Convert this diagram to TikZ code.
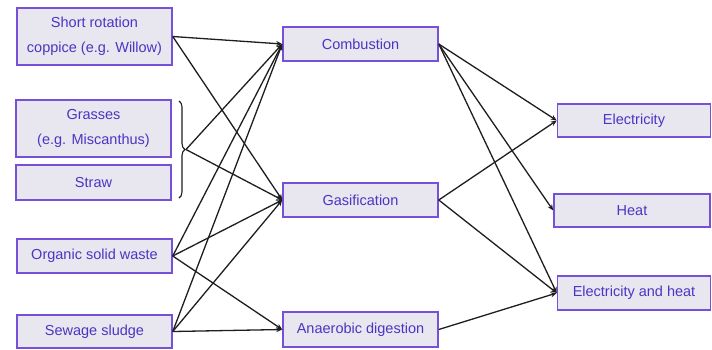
\documentclass[tikz,border=0pt]{standalone}
\usepackage{fontspec}
\setmainfont{Liberation Sans}
\usetikzlibrary{arrows.meta,decorations.pathreplacing}
\definecolor{boxfill}{HTML}{E8E6EF}
\definecolor{boxline}{HTML}{7650D8}
\definecolor{boxtext}{HTML}{4E34C2}
\definecolor{linecol}{HTML}{1E1E1E}
\begin{document}
\begin{tikzpicture}[x=1pt,y=-1pt,
  box/.style={draw=boxline,line width=1.5pt,fill=boxfill,text=boxtext,
    minimum width=155pt,inner sep=0pt,align=center,
    font=\fontsize{14.5}{25}\selectfont},
  conn/.style={draw=linecol,line width=1.3pt,-{Stealth[length=6pt,width=5pt]}}]
\useasboundingbox (0,0) rectangle (712,349);
\fill[white] (0,0) rectangle (712,349);
% sources
\node[box,minimum height=57pt] (src) at (94.5,36.5) {Short rotation\\coppice (e.g. Willow)};
\node[box,minimum height=57pt] (gra) at (93.5,128.5) {Grasses\\(e.g. Miscanthus)};
\node[box,minimum height=35pt] (stw) at (93.5,182.5) {Straw};
\node[box,minimum height=34pt] (osw) at (94.5,256) {Organic solid waste};
\node[box,minimum height=33pt] (sew) at (94.5,331.5) {Sewage sludge};
% processes
\node[box,minimum height=34pt] (com) at (360.5,44) {Combustion};
\node[box,minimum height=34pt] (gas) at (360.5,200) {Gasification};
\node[box,minimum height=35pt] (ana) at (360.5,329.5) {Anaerobic digestion};
% outputs
\node[box,minimum width=153pt,minimum height=33pt] (ele) at (634,120.5) {Electricity};
\node[box,minimum width=156pt,minimum height=33pt] (hea) at (632,210.5) {Heat};
\node[box,minimum width=153pt,minimum height=34pt] (eah) at (634,293) {Electricity and heat};
% brace
\draw[linecol,line width=1.1pt,decorate,decoration={brace,amplitude=6pt}] (179,101) -- (179,198);
\coordinate (br) at (186,149.5);
% connectors
\draw[conn] (src.east) -- (com.west);
\draw[conn] (src.east) -- (gas.west);
\draw[conn] (br) -- (com.west);
\draw[conn] (br) -- (gas.west);
\draw[conn] (osw.east) -- (com.west);
\draw[conn] (osw.east) -- (gas.west);
\draw[conn] (osw.east) -- (ana.west);
\draw[conn] (sew.east) -- (com.west);
\draw[conn] (sew.east) -- (gas.west);
\draw[conn] (sew.east) -- (ana.west);
\draw[conn] (com.east) -- (ele.west);
\draw[conn] (com.east) -- (hea.west);
\draw[conn] (com.east) -- (eah.west);
\draw[conn] (gas.east) -- (ele.west);
\draw[conn] (gas.east) -- (eah.west);
\draw[conn] (ana.east) -- (eah.west);
\end{tikzpicture}
\end{document}
